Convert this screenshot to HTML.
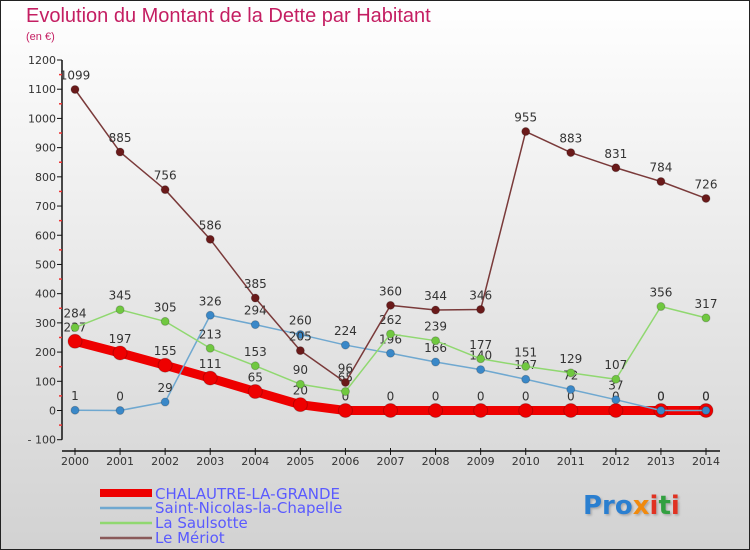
<!DOCTYPE html>
<html><head><meta charset="utf-8"><style>
body{margin:0}
#c{width:750px;height:550px;position:relative;overflow:hidden;font-family:"DejaVu Sans","Liberation Sans",sans-serif}
text{font-family:"DejaVu Sans","Liberation Sans",sans-serif}
</style></head><body>
<div id="c">
<svg id="s" width="750" height="550" xmlns="http://www.w3.org/2000/svg">
<defs><linearGradient id="bg" x1="0" y1="0" x2="0" y2="1"><stop offset="0" stop-color="#ffffff"/><stop offset="1" stop-color="#d2d2d2"/></linearGradient>
<filter id="sh"><feDropShadow dx="1.5" dy="1.5" stdDeviation="1" flood-color="#888" flood-opacity="0.6"/></filter></defs>
<rect x="0.5" y="0.5" width="749" height="549" fill="url(#bg)" stroke="#222"/>
<text x="26" y="22" font-size="20" fill="#c41e62" style="font-family:'Liberation Sans',sans-serif">Evolution du Montant de la Dette par Habitant</text>
<text x="26" y="40" font-size="11" fill="#c41e62" style="font-family:'Liberation Sans',sans-serif">(en €)</text>
<g id="axes"></g><g id="series"></g>
<g font-size="15" fill="#5a5aff">
<rect x="100" y="489" width="52" height="8" fill="#e00"/>
<text x="155" y="499" fill="#5a5aff">CHALAUTRE-LA-GRANDE</text>
<line x1="100" y1="508" x2="152" y2="508" stroke="#6fa8d0" stroke-width="2.5"/>
<text x="155" y="513" fill="#5a5aff">Saint-Nicolas-la-Chapelle</text>
<line x1="100" y1="523" x2="152" y2="523" stroke="#90d870" stroke-width="2.5"/>
<text x="155" y="528" fill="#5a5aff">La Saulsotte</text>
<line x1="100" y1="538" x2="152" y2="538" stroke="#8a5a5a" stroke-width="2.5"/>
<text x="155" y="543" fill="#5a5aff">Le Mériot</text>
</g>
<g font-size="26" font-weight="bold" filter="url(#sh)">
<text x="583" y="514"><tspan fill="#2a7fd0">Pro</tspan><tspan fill="#f08a10">x</tspan><tspan fill="#e03020">i</tspan><tspan fill="#30a040">t</tspan><tspan fill="#e03020">i</tspan></text>
</g>
</svg>
</div>
<script>
const years=[2000,2001,2002,2003,2004,2005,2006,2007,2008,2009,2010,2011,2012,2013,2014];
const chalautre=[237,197,155,111,65,20,0,0,0,0,0,0,0,0,0];
const saintNicolas=[1,0,29,326,294,260,224,196,166,140,107,72,37,0,0];
const saulsotte=[284,345,305,213,153,90,65,262,239,177,151,129,107,356,317];
const meriot=[1099,885,756,586,385,205,96,360,344,346,955,883,831,784,726];
const yTicks=[-100,0,100,200,300,400,500,600,700,800,900,1000,1100,1200];
const NS="http://www.w3.org/2000/svg";
function xS(i){return 75+(706-75)*i/(years.length-1);}
function yS(v){return 410.5-v*(350.5/1200);}
function el(t,a,p){const e=document.createElementNS(NS,t);for(const k in a)e.setAttribute(k,a[k]);p.appendChild(e);return e;}
const ax=document.getElementById('axes');
const ya=el('line',{x1:62,y1:yS(1200),x2:62,y2:yS(-100),stroke:'#111','stroke-width':1.5},ax);


yTicks.forEach(v=>{
 const y=yS(v);
 el('line',{x1:57,y1:y,x2:62,y2:y,stroke:'#111'},ax);
 if(v<1200){el('line',{x1:59,y1:yS(v+50),x2:62,y2:yS(v+50),stroke:'#e33','stroke-width':1.5},ax);}
 const t=el('text',{x:56,y:y+4,'font-size':11,'text-anchor':'end',fill:'#333'},ax);
 t.textContent=v===-100?'- 100':String(v);
 
 
});
const xa=el('line',{x1:62,y1:451,x2:720,y2:451,stroke:'#111','stroke-width':1.5},ax);


years.forEach((yr,i)=>{
 const x=xS(i);
 el('line',{x1:x,y1:448,x2:x,y2:455,stroke:'#111'},ax);
 const t=el('text',{x:x,y:465,'font-size':11,'text-anchor':'middle',fill:'#333'},ax);
 t.textContent=yr;
 
 
});
const sg=document.getElementById('series');
function draw(name,vals,color,dot,w,r){
 const g=el('g',{},sg);
 
 
 const pts=vals.map((v,i)=>xS(i)+','+yS(v)).join(' ');
 const l=el('polyline',{points:pts,fill:'none',stroke:color,'stroke-width':w,'stroke-linejoin':'round'},g);
 
 
 vals.forEach((v,i)=>{
  const c=el('circle',{cx:xS(i),cy:yS(v),r:r,fill:dot,stroke:'rgba(0,0,0,0.2)'},g);
  
  
  const t=el('text',{x:xS(i),y:yS(v)-10,'font-size':12,'text-anchor':'middle',fill:'#333'},g);
  t.textContent=v;
  
  
 });
}
draw('chalautre',chalautre,'#ee0000','#ee0000',9,7);
draw('saint-nicolas',saintNicolas,'#6fa8d0','#3a88c8',1.5,4);
draw('saulsotte',saulsotte,'#90d870','#70c840',1.5,4);
draw('meriot',meriot,'#7a3a3a','#6a1a1a',1.5,4);
</script>
</body></html>
